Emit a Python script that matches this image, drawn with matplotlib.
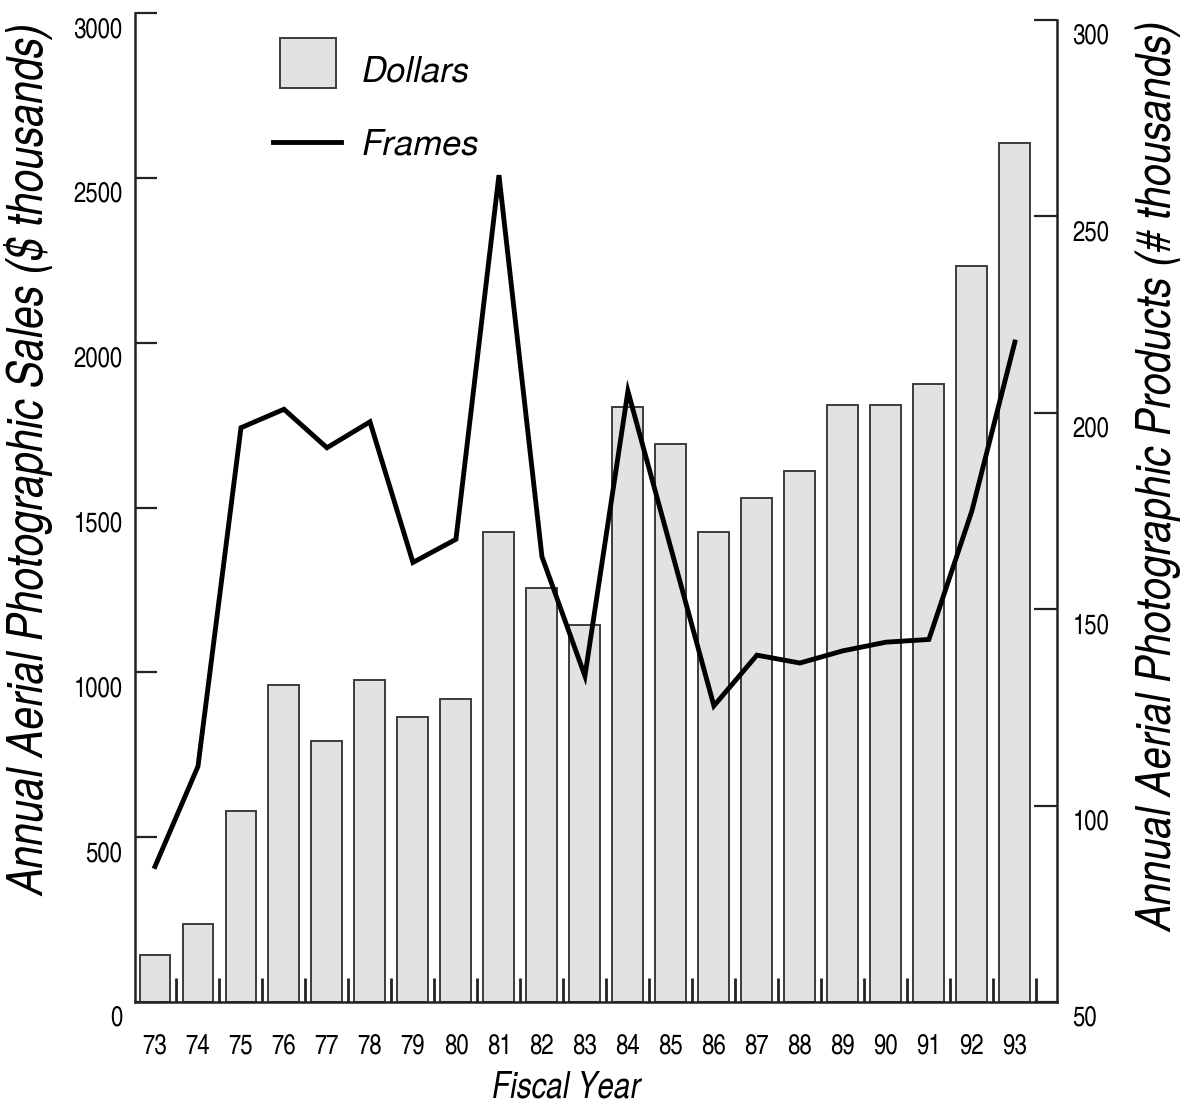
import numpy as np
import matplotlib
matplotlib.use("Agg")
import matplotlib.pyplot as plt
from matplotlib.font_manager import FontProperties
from matplotlib.transforms import ScaledTranslation
from matplotlib.patches import Rectangle
from matplotlib.container import BarContainer
from matplotlib.legend_handler import HandlerPatch, update_from_first_child
import logging
logging.getLogger('matplotlib.font_manager').setLevel(logging.ERROR)

# ---- data ----
years = ["73", "74", "75", "76", "77", "78", "79", "80", "81", "82", "83",
         "84", "85", "86", "87", "88", "89", "90", "91", "92", "93"]
dollars = [143, 236, 580, 961, 792, 976, 865, 920, 1425, 1255, 1144,
           1804, 1693, 1427, 1530, 1612, 1811, 1811, 1875, 2233, 2606]
frames = [84.5, 110, 196.2, 200.9, 191.1, 197.7, 161.9, 167.8, 260.5, 163.4, 133,
          205.5, 165.5, 125.4, 138.3, 136.3, 139.4, 141.6, 142.3, 175, 218]
left_ticks = [0, 500, 1000, 1500, 2000, 2500, 3000]
right_ticks = [50, 100, 150, 200, 250, 300]

NARROW = ['TeX Gyre Heros Cn', 'Liberation Sans Narrow', 'Roboto Condensed',
          'Archivo Narrow', 'Liberation Sans']
REGULAR = ['TeX Gyre Heros', 'Liberation Sans']
plt.rcParams['font.family'] = NARROW

fig = plt.figure(figsize=(11.97, 11.10), dpi=100)
W, H = 1197, 1110
L, R, T, B = 135, 1057, 13, 1002
ax = fig.add_axes([L / W, (H - B) / H, (R - L) / W, (B - T) / H])

x = np.arange(len(years))
bars = ax.bar(x, dollars, width=0.72, color='#e2e2e2', edgecolor='#3c3c3c',
              linewidth=1.4, zorder=2)
ax.set_xlim(-0.465, 20.98)
ax.set_ylim(0, 3000)

ax2 = ax.twinx()
line, = ax2.plot(x, frames, color='black', lw=3.5, solid_joinstyle='miter',
                 zorder=3)
ax2.set_ylim(50, 301.78)

for a in (ax, ax2):
    a.spines['top'].set_visible(False)
ax.spines['right'].set_visible(False)
ax2.spines['left'].set_visible(False)
ax2.spines['bottom'].set_visible(False)
for s in ('left', 'bottom'):
    ax.spines[s].set_linewidth(1.8)
    ax.spines[s].set_color('#222222')
ax2.spines['right'].set_linewidth(1.8)
ax2.spines['right'].set_color('#222222')
ax2.spines['right'].set_bounds(50, 300)

ax.set_xticks(x)
ax.set_xticklabels(years)
ax.set_xticks(x + 0.5, minor=True)
ax.tick_params(axis='x', which='major', length=0, pad=23, labelsize=19.5)
ax.tick_params(axis='x', which='minor', direction='in', length=17, width=2,
               color='#222222')
ax.set_yticks(left_ticks)
ax.set_yticklabels([str(v) for v in left_ticks])
ax.tick_params(axis='y', direction='in', length=16, width=1.6, pad=9,
               labelsize=19.5, color='#222222')
ax2.set_yticks(right_ticks)
ax2.set_yticklabels([str(v) for v in right_ticks])
ax2.tick_params(axis='y', direction='in', length=16.5, width=1.6, pad=11,
                labelsize=19.5, color='#222222')

off = ScaledTranslation(0, -0.14, fig.dpi_scale_trans)
for lab in ax.get_yticklabels() + ax2.get_yticklabels():
    lab.set_transform(lab.get_transform() + off)

fig.text(30 / W, 1 - 460 / H, "Annual Aerial Photographic Sales ($ thousands)",
         rotation=90, ha='center', va='center', fontsize=36, style='italic')
fig.text(1160 / W, 1 - 477 / H,
         "Annual Aerial Photographic Products (# thousands)",
         rotation=90, ha='center', va='center', fontsize=35.2, style='italic')
fig.text(566 / W, 1 - 1088 / H, "Fiscal Year", ha='center', va='center',
         fontsize=26, style='italic')


def legend_box(legend, orig_handle, xdescent, ydescent, width, height, fontsize):
    # box slightly narrower than the line sample, reaching a bit below baseline
    return Rectangle((-xdescent + 5, -4.3), width - 9, 36)


leg_fp = FontProperties(family=REGULAR, style='italic', size=25)
ax2.legend([bars, line], ["Dollars", "Frames"], prop=leg_fp, frameon=False,
           loc='upper left', bbox_to_anchor=(273 / W, 1 - 56 / H),
           bbox_transform=fig.transFigure, borderaxespad=0, borderpad=0,
           handlelength=1.96, handleheight=0.7, handletextpad=0.6,
           labelspacing=1.14,
           handler_map={BarContainer: HandlerPatch(
               patch_func=legend_box, update_func=update_from_first_child)})

fig.savefig("out.png", dpi=100)
